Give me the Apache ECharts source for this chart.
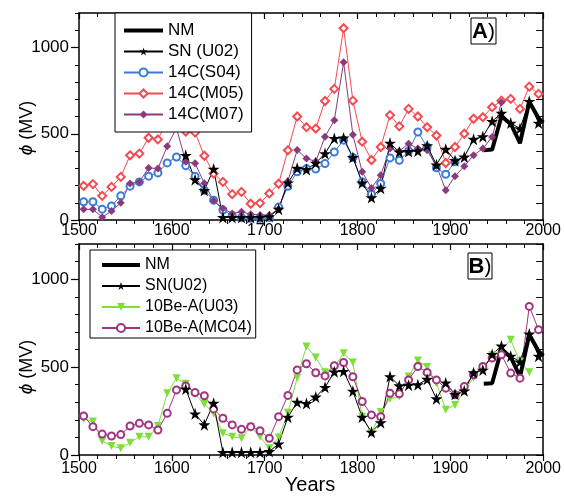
<!DOCTYPE html>
<html>
<head>
<meta charset="utf-8">
<script src="https://cdn.jsdelivr.net/npm/echarts@6/dist/echarts.min.js"></script>
<style>
  html, body { margin: 0; padding: 0; background: #fff; }
  #chart { width: 564px; height: 499px; }
</style>
</head>
<body>
<div id="chart"></div>
<script>
// Decadal sample years (mid-decade)
const decades = [
  1505, 1515, 1525, 1535, 1545, 1555, 1565, 1575, 1585, 1595,
  1605, 1615, 1625, 1635, 1645, 1655, 1665, 1675, 1685, 1695,
  1705, 1715, 1725, 1735, 1745, 1755, 1765, 1775, 1785, 1795,
  1805, 1815, 1825, 1835, 1845, 1855, 1865, 1875, 1885, 1895,
  1905, 1915, 1925, 1935, 1945, 1955, 1965, 1975, 1985, 1995
];

// Modulation potential phi (MV)
const sn_U02 = [
  null, null, null, null, null, null, null, null, null, null,
  null, 375, 234, 172, 295, 15, 15, 15, 15, 15,
  20, 63, 215, 300, 293, 330, 385, 473, 476, 363,
  215, 130, 184, 446, 394, 397, 400, 431, 320, 410,
  345, 365, 468, 483, 572, 620, 562, 530, 688, 562
];
const c14_S04 = [
  106, 106, 63, 81, 140, 196, 221, 254, 273, 331,
  365, 315, 253, 173, 115, 58, 25, 15, 10, 10,
  15, 75, 195, 279, 298, 295, 327, 394, 463, 363,
  220, 150, 212, 360, 346, 400, 510, 423, 303, 265,
  337, null, null, null, null, null, null, null, null, null
];
const c14_M05 = [
  198, 208, 140, 192, 250, 375, 385, 477, 467, 575,
  630, 513, 508, 372, 269, 221, 150, 163, 94, 98,
  154, 210, 404, 600, 538, 530, 690, 760, 1112, 692,
  454, 348, 423, 608, 543, 644, 600, 538, 490, 330,
  423, 500, 587, 596, 654, 692, 702, 644, 773, 731
];
const c14_M07 = [
  62, 62, 16, 52, 100, 212, 221, 302, 298, 427,
  533, 337, 329, 213, 111, 67, 38, 48, 33, 29,
  29, 62, 225, 406, 356, 340, 482, 578, 915, 494,
  279, 185, 260, 415, 400, 442, 414, 404, 315, 173,
  254, 312, 375, 414, 481, 683, null, null, null, null
];
const be10_U03 = [
  205, 190, 80, 51, 38, 70, 104, 104, 165, 351,
  437, 405, 345, 290, 237, 124, 104, 95, 161, 104,
  38, 100, 240, 440, 617, 555, 470, 503, 578, 526,
  218, 124, 244, 320, 332, 446, 537, 500, 408, 258,
  285, 361, 440, 492, 567, 600, 655, 532, 470, null
];
const be10_MC04 = [
  222, 161, 119, 108, 116, 165, 180, 171, 142, 237,
  370, 393, 355, 337, 262, 209, 171, 146, 161, 138,
  95, 218, 339, 484, 519, 468, 450, 507, 526, 445,
  304, 228, 218, 351, 348, 427, 503, 469, 427, 380,
  342, 389, 456, 503, 551, 570, 466, 437, 845, 713
];

// Neutron monitor era
const nmYears = [1936, 1945, 1955, 1965, 1975, 1985, 1995, 2000];
const nmValues = [405, 408, 600, 558, 445, 685, 590, 565];

// Axis tick values
const yearTicks = [1500, 1600, 1700, 1800, 1900, 2000];
const phiTicks = [0, 500, 1000];

const RED = '#f54a50';
const BLUE = '#3b7bd9';
const PURPLE = '#8b3a7c';
const GREEN = '#7ddf3a';
const MAGENTA = '#a2347f';
const FONT = '"Liberation Sans", Arial, sans-serif';
const STAR = 'path://M12,0 L14.8,8.6 L23.8,8.6 L16.5,13.9 L19.3,22.5 L12,17.2 L4.7,22.5 L7.5,13.9 L0.2,8.6 L9.2,8.6 Z';

function pairs(xs, ys) {
  return xs.map((x, i) => [x, ys[i]]).filter(p => p[1] != null);
}

function xAxesFor(grid, margin) {
  const common = {
    type: 'value', gridIndex: grid, min: yearTicks[0], max: yearTicks[yearTicks.length - 1], interval: 100,
    splitLine: { show: false },
    axisLine: { show: true, onZero: false, lineStyle: { color: '#000', width: 1.5 } }
  };
  return [
    Object.assign({}, common, {
      position: 'bottom',
      axisTick: { show: true, inside: false, length: 6, lineStyle: { color: '#000', width: 1.2 } },
      minorTick: { show: true, splitNumber: 5, length: 4, lineStyle: { color: '#000', width: 1 } },
      axisLabel: {
        show: true, color: '#000', fontSize: 16, fontFamily: FONT, margin: margin,
        formatter: v => String(v)
      }
    }),
    Object.assign({}, common, {
      position: 'top',
      axisTick: { show: true, inside: true, length: 6, lineStyle: { color: '#000', width: 1.2 } },
      minorTick: { show: true, splitNumber: 5, length: 4, lineStyle: { color: '#000', width: 1 } },
      axisLabel: { show: false }
    })
  ];
}

function yAxesFor(grid) {
  const common = {
    type: 'value', gridIndex: grid, min: 0, max: 1200,
    splitLine: { show: false }
  };
  return [
    Object.assign({}, common, {
      position: 'left', interval: 100,
      axisLine: { show: true, onZero: false, lineStyle: { color: '#000', width: 1.5 } },
      axisTick: { show: true, inside: false, length: 4, lineStyle: { color: '#000', width: 1 } },
      axisLabel: {
        show: true, color: '#000', fontSize: 17, fontFamily: FONT, margin: 10,
        formatter: v => (phiTicks.indexOf(v) >= 0 ? String(v) : '')
      }
    }),
    Object.assign({}, common, {
      position: 'left', interval: 500,
      axisLine: { show: false, onZero: false },
      axisTick: { show: true, inside: false, length: 8, customValues: phiTicks, lineStyle: { color: '#000', width: 1.2 } },
      axisLabel: { show: false }
    }),
    Object.assign({}, common, {
      position: 'right', interval: 100,
      axisLine: { show: true, onZero: false, lineStyle: { color: '#000', width: 1.5 } },
      axisTick: { show: true, inside: true, length: 7, lineStyle: { color: '#000', width: 1 } },
      axisLabel: { show: false }
    })
  ];
}

function lineSeries(name, xi, yi, data, color, symbol, size, extra) {
  return Object.assign({
    name: name, type: 'line', xAxisIndex: xi, yAxisIndex: yi, data: data,
    symbol: symbol, symbolSize: size, showSymbol: symbol !== 'none',
    color: color, itemStyle: { color: color, borderWidth: 1 },
    lineStyle: { color: color, width: 1 },
    clip: false, silent: true, animation: false
  }, extra || {});
}

function panelLabel(letter, x, y, w, h) {
  return [
    { type: 'rect', shape: { x: x, y: y, width: w, height: h }, style: { fill: '#fff', stroke: '#000', lineWidth: 1 }, z: 100 },
    {
      type: 'text', x: x + w / 2, y: y + h / 2 + 1, z: 101,
      style: {
        text: '{b|' + letter + '}{n|)}', align: 'center', verticalAlign: 'middle',
        rich: {
          b: { fontSize: 22, fontWeight: 'bold', fontFamily: FONT, fill: '#000' },
          n: { fontSize: 21, fontFamily: FONT, fill: '#000' }
        }
      }
    }
  ];
}

function phiName(x, y) {
  return {
    type: 'text', x: x, y: y, rotation: Math.PI / 2, z: 100,
    style: {
      text: '{i|ϕ}{n| (MV)}', align: 'center', verticalAlign: 'middle',
      rich: {
        i: { fontSize: 19, fontStyle: 'italic', fontFamily: FONT, fill: '#000' },
        n: { fontSize: 18, fontFamily: FONT, fill: '#000' }
      }
    }
  };
}

// The neutron-monitor entry is drawn as a bare thick line in the legends
const nmLegendItem = { name: 'NM', itemStyle: { opacity: 0 }, lineStyle: { width: 4, color: '#000' } };

const chart = echarts.init(document.getElementById('chart'), null, { renderer: 'canvas' });

const option = {
  backgroundColor: '#fff',
  animation: false,
  grid: [
    { left: 79, top: 13, width: 466, height: 207 },
    { left: 79, top: 244, width: 466, height: 211 }
  ],
  xAxis: xAxesFor(0, 3).concat(xAxesFor(1, 6)),
  yAxis: yAxesFor(0).concat(yAxesFor(1)),
  legend: [
    {
      orient: 'vertical', left: 115, top: 13, selectedMode: false,
      itemWidth: 39, itemHeight: 10, itemGap: 4, padding: [9, 8, 9, 7],
      backgroundColor: '#fff', borderColor: '#000', borderWidth: 1,
      textStyle: { color: '#000', fontSize: 17, fontFamily: FONT, lineHeight: 16 },
      data: [nmLegendItem, 'SN (U02)', '14C(S04)', '14C(M05)', '14C(M07)']
    },
    {
      orient: 'vertical', left: 90, top: 250, selectedMode: false,
      itemWidth: 38, itemHeight: 10, itemGap: 5, padding: [7, 4, 2, 10],
      backgroundColor: '#fff', borderColor: '#000', borderWidth: 1,
      textStyle: { color: '#000', fontSize: 16, fontFamily: FONT, lineHeight: 16 },
      data: [nmLegendItem, 'SN(U02)', '10Be-A(U03)', '10Be-A(MC04)']
    }
  ],
  graphic: [].concat(
    panelLabel('A', 471, 18, 25, 26),
    panelLabel('B', 468, 253, 24, 26),
    [
      phiName(27, 128),
      phiName(27, 367),
      {
        type: 'text', x: 310, y: 485, z: 100,
        style: { text: 'Years', align: 'center', verticalAlign: 'middle', fontSize: 20, fontFamily: FONT, fill: '#000' }
      }
    ]
  ),
  series: [
    // Panel A
    lineSeries('14C(M05)', 0, 0, pairs(decades, c14_M05), RED, 'emptyDiamond', 8),
    lineSeries('14C(S04)', 0, 0, pairs(decades, c14_S04), BLUE, 'emptyCircle', 7),
    lineSeries('14C(M07)', 0, 0, pairs(decades, c14_M07), PURPLE, 'diamond', 8),
    lineSeries('SN (U02)', 0, 0, pairs(decades, sn_U02), '#000', STAR, 12),
    lineSeries('NM', 0, 0, pairs(nmYears, nmValues), '#000', 'none', 0, { lineStyle: { color: '#000', width: 4 } }),
    // Panel B
    lineSeries('10Be-A(U03)', 2, 3, pairs(decades, be10_U03), GREEN, 'triangle', 8, { symbolRotate: 180 }),
    lineSeries('10Be-A(MC04)', 2, 3, pairs(decades, be10_MC04), MAGENTA, 'emptyCircle', 7),
    lineSeries('SN(U02)', 2, 3, pairs(decades, sn_U02), '#000', STAR, 12),
    lineSeries('NM', 2, 3, pairs(nmYears, nmValues), '#000', 'none', 0, { lineStyle: { color: '#000', width: 4 } })
  ]
};

chart.setOption(option);
</script>
</body>
</html>
